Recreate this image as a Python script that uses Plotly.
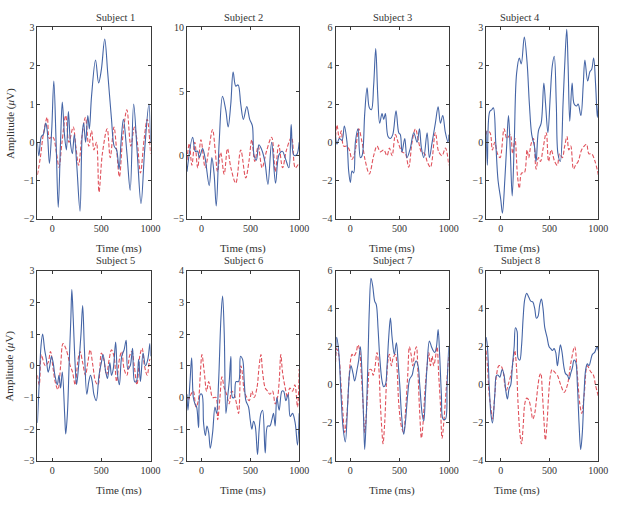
import plotly.graph_objects as go
from plotly.subplots import make_subplots

# ERP traces (time in ms, amplitude in microvolts)
s1_blue_t = [-150, -135, -110, -90, -65, -50, -28, -5, 17, 40, 62, 85, 103, 125, 145, 165, 185, 205, 225, 250,
             283, 305, 320, 340, 362, 378, 400, 441, 472, 500, 534, 565, 603, 630, 655, 680, 700, 724, 760, 793,
             828, 865, 903, 940, 983, 1000]
s1_blue_v = [0.0, -0.35, 0.15, 0.2, 0.5, 0.3, -0.55, 0.3, 1.6, 0.0, -1.7, 0.0, 1.05, 0.2, -0.2, 0.8, 0.0, -0.3, 0.2, -0.6,
             -1.8, 0.2, 0.5, 0.0, 0.7, 0.35, 1.2, 2.15, 1.55, 1.9, 2.7, 1.8, 0.6, -0.1, -0.2, -0.7, 0.0, 0.6, -0.3, -1.25,
             1.0, -0.3, -1.6, -0.2, 1.0, 0.0]
s1_red_t = [-150, -120, -90, -50, -28, 0, 17, 45, 70, 100, 138, 170, 214, 240, 269, 300, 338, 372, 400, 425,
            450, 476, 510, 559, 590, 628, 655, 683, 720, 759, 800, 835, 865, 897, 935, 966, 1000]
s1_red_v = [-0.85, -0.4, 0.2, 0.65, 0.1, 0.15, 0.1, -0.3, -0.65, 0.0, 0.7, 0.0, 0.4, -0.1, -0.6, 0.1, 0.65, -0.1, 0.3, -0.2,
            0.0, -1.3, -0.3, 0.35, -0.4, 0.4, -0.2, -0.9, 0.2, 0.85, -0.1, 0.4, 0.0, -0.8, 0.1, 0.6, -0.3]

s2_blue_t = [-150, -92, -65, -41, -24, 10, 37, 78, 105, 128, 150, 180, 214, 248, 272, 299, 323, 350, 374, 401,
             428, 463, 493, 520, 537, 561, 588, 622, 650, 680, 718, 758, 792, 827, 860, 895, 918, 945, 973, 1000]
s2_blue_v = [-1.3, 1.4, 0.3, 0.3, -0.2, 0.5, -0.3, -2.4, -0.2, -1.5, -4.0, 1.0, 4.6, 3.5, 2.2, 4.0, 6.5, 5.4, 5.5, 4.0,
             2.8, 3.8, 2.8, 2.3, 0.0, -0.4, 0.8, 0.3, -0.6, -2.3, 1.0, -2.2, 0.0, 0.3, -0.3, -1.0, 2.4, 0.0, 0.0, 1.0]
s2_red_t = [-150, -126, -100, -70, -40, -7, 37, 75, 112, 140, 163, 195, 231, 265, 300, 350, 401, 452, 485, 514,
            545, 580, 620, 665, 718, 755, 790, 830, 870, 922, 960, 1000]
s2_red_v = [-0.4, 0.9, -0.8, 1.0, -1.0, 1.2, -1.0, 0.5, 2.0, 0.3, -1.3, 0.2, -1.5, 0.5, -1.0, -2.2, 0.4, -1.8, -0.5, 1.2,
            -0.5, 0.7, -1.0, 0.3, 1.4, -1.3, 0.8, -1.0, 0.4, 1.4, -1.0, -0.6]

s3_blue_t = [-150, -136, -112, -85, -61, -34, -17, 0, 17, 34, 51, 78, 102, 119, 146, 170, 193, 214, 237, 258,
             278, 298, 322, 339, 356, 383, 407, 431, 464, 492, 508, 525, 553, 576, 610, 644, 678, 702, 722, 746,
             780, 803, 831, 864, 892, 915, 939, 966, 993, 1000]
s3_blue_v = [0.3, -0.1, 0.2, 0.1, 0.85, 0.0, -1.5, -2.1, -1.5, -1.6, 0.0, 0.7, -0.8, -0.7, 1.5, 2.85, 1.8, 1.7, 3.0, 4.9,
             2.5, 1.0, 1.5, 1.2, 1.5, 0.3, 0.2, 0.4, 1.65, 0.5, 0.4, -0.5, 0.2, -0.8, -0.3, 0.5, 0.0, 0.7, -0.3, -0.8,
             0.5, -0.8, 0.0, 1.0, 1.85, 1.0, 1.4, 0.5, 0.0, 0.4]
s3_red_t = [-150, -136, -112, -92, -68, -34, -10, 17, 51, 85, 119, 153, 193, 237, 271, 305, 339, 373, 397, 424,
            458, 485, 525, 559, 593, 627, 661, 695, 722, 756, 780, 814, 864, 898, 932, 966, 1000]
s3_red_v = [0.3, 0.9, 0.2, 0.6, -0.2, -0.2, -0.4, -0.9, -0.4, 0.7, 0.0, -1.0, -1.65, -0.7, -0.2, -0.5, -0.4, -0.7, -0.3, -0.7,
            0.4, 0.0, -0.5, -0.6, -1.3, 0.0, 0.7, 0.0, -0.5, -0.6, -1.0, -1.3, 0.5, -0.5, -0.7, -0.3, -1.2]

s4_blue_t = [-150, -138, -114, -93, -76, -52, -28, 0, 17, 41, 62, 79, 97, 117, 138, 162, 190, 210, 241, 269,
             293, 317, 345, 362, 386, 414, 441, 459, 483, 507, 528, 548, 569, 586, 610, 638, 655, 676, 690, 707,
             731, 752, 776, 793, 821, 845, 862, 890, 914, 931, 952, 972, 990, 1000]
s4_blue_v = [0.3, -0.6, 0.8, 0.85, 0.9, 0.0, -1.0, -1.5, -1.85, -1.0, 0.0, 0.7, -0.2, -1.4, 0.0, 1.8, 2.2, 2.05, 2.75, 2.1,
             1.0, 0.2, -0.1, -0.5, 0.3, 0.5, 1.55, 1.0, 0.25, 1.2, 2.0, 2.25, 1.0, -0.3, -0.5, 1.0, 2.0, 2.95, 2.0, 0.55,
             1.55, 1.0, 0.95, 1.0, 0.7, 1.5, 2.15, 1.6, 1.85, 1.9, 2.2, 1.5, 0.65, 1.0]
s4_red_t = [-150, -138, -110, -86, -62, -34, -7, 34, 62, 97, 121, 145, 172, 190, 214, 241, 269, 286, 310, 334,
            362, 386, 407, 431, 466, 490, 517, 552, 579, 603, 631, 655, 679, 697, 717, 745, 766, 793, 828, 855,
            879, 903, 931, 966, 1000]
s4_red_v = [0.2, 0.3, 0.25, -0.2, 0.0, -0.3, -0.4, 0.35, 0.1, 0.2, -0.3, 0.1, -0.9, -1.2, -0.8, -0.8, -0.2, -0.4, -0.05, 0.1,
            -0.7, -0.4, -0.5, -0.2, 0.25, -0.5, -0.2, -0.5, -0.6, -0.3, -0.4, -0.1, 0.15, -0.2, -0.1, -0.7, -0.6, -0.5, -0.2, -0.1,
            -0.05, -0.3, -0.3, -0.5, -0.85]

s5_blue_t = [-150, -131, -114, -97, -76, -59, -41, -24, -7, 10, 28, 52, 69, 86, 103, 128, 138, 155, 172, 190,
             200, 214, 234, 248, 269, 293, 310, 328, 352, 372, 390, 407, 424, 448, 476, 500, 517, 545, 562, 586,
             603, 621, 645, 662, 683, 707, 731, 752, 769, 793, 817, 838, 855, 879, 897, 924, 948, 972, 993, 1000]
s5_blue_v = [-1.8, -0.5, 0.6, 1.0, 0.5, 0.2, -0.2, 0.0, 0.3, 0.1, -0.3, -0.6, -0.3, -0.7, -0.2, -1.6, -2.15, -1.5, 0.0, 1.5,
             2.4, 1.5, 0.0, -0.6, 0.0, 1.0, 1.9, 0.5, -0.9, -0.5, -0.3, -0.5, -0.9, -1.1, -0.3, 0.1, 0.35, -0.2, -0.4, 0.1,
             -0.3, -0.1, 0.75, -0.2, -0.6, 0.3, 0.5, 0.8, -0.1, 0.0, 0.55, -0.5, -0.5, 0.2, -0.5, 0.4, 0.0, 0.2, 0.7, 0.3]
s5_red_t = [-150, -131, -110, -86, -69, -41, -17, 10, 34, 59, 86, 110, 138, 162, 183, 207, 234, 259, 283, 310,
            338, 362, 386, 414, 441, 466, 500, 524, 552, 579, 603, 628, 655, 683, 707, 731, 759, 786, 810, 834,
            862, 890, 914, 938, 966, 993, 1000]
s5_red_v = [-0.3, -0.6, 0.35, 0.1, 0.0, 0.1, 0.45, -0.1, -0.55, -0.75, 0.0, 0.7, 0.55, 0.3, 0.0, -0.2, -0.6, 0.1, 0.45, 0.1,
            -0.3, 0.1, 0.5, 0.0, -0.5, -0.6, 0.4, 0.2, -0.3, 0.2, 0.5, 0.3, -0.5, 0.2, 0.45, -0.1, -0.3, 0.3, 0.45, 0.0,
            -0.6, 0.3, 0.55, 0.0, -0.3, 0.2, 0.2]

s6_blue_t = [-150, -140, -119, -102, -85, -68, -51, -31, -14, 3, 20, 38, 55, 72, 89, 113, 137, 154, 174, 198,
             215, 232, 249, 266, 283, 300, 317, 334, 352, 379, 399, 420, 437, 454, 481, 498, 515, 532, 550, 573,
             590, 608, 625, 652, 676, 700, 720, 737, 754, 771, 795, 823, 840, 864, 887, 908, 932, 959, 983, 1000]
s6_blue_v = [0.1, -0.4, 0.5, 1.25, 0.0, -0.2, -0.3, -0.95, 0.1, 0.1, -0.8, -1.2, -0.9, -1.1, -1.6, -1.1, -0.3, -0.5, 0.5, 2.5,
             3.2, 2.0, -0.5, 0.0, 0.5, 1.3, 0.0, 0.0, 0.5, 0.5, 1.3, 1.2, 0.5, -0.1, -0.3, -0.7, -1.0, -0.75, -0.9, -1.8,
             -1.0, -0.5, -0.4, -1.75, -0.9, -0.9, -0.7, -0.5, -0.9, 0.0, -0.4, 0.2, 0.2, -0.1, 0.1, -0.6, -0.5, -0.8, -1.5, -0.5]
s6_red_t = [-150, -133, -109, -85, -58, -34, -14, 3, 27, 51, 72, 89, 113, 147, 164, 188, 208, 232, 256, 283,
            307, 334, 358, 379, 403, 420, 437, 464, 488, 515, 539, 567, 590, 608, 625, 652, 676, 700, 727, 754,
            778, 795, 812, 829, 857, 881, 904, 932, 956, 983, 1000]
s6_red_v = [0.0, -0.05, 0.1, 0.2, -0.3, -0.1, 0.7, 1.35, 0.8, 0.2, 0.5, 0.3, 0.0, 0.0, -0.7, 0.0, 0.65, 0.3, 0.1, -0.2,
            0.2, 0.1, -0.2, -0.5, 1.0, 0.7, 0.2, 0.0, -0.1, 0.2, 0.0, 0.3, 1.0, 1.35, 0.8, 0.3, 0.2, 0.1, 0.2, -0.2,
            0.0, 0.5, 1.35, 0.8, 0.3, 0.0, 0.3, 0.2, 0.4, -0.3, 0.9]

s7_blue_t = [-150, -139, -119, -95, -75, -51, -27, -10, 7, 27, 44, 68, 85, 102, 119, 136, 146, 163, 180, 193,
             210, 227, 247, 264, 281, 298, 322, 339, 356, 373, 390, 407, 424, 447, 468, 485, 502, 519, 542, 559,
             583, 603, 627, 644, 668, 688, 705, 729, 746, 763, 780, 803, 824, 841, 858, 875, 892, 908, 925, 942,
             966, 983, 1000]
s7_blue_v = [1.5, 2.5, 1.8, -0.5, -2.2, -3.0, -1.0, 0.5, 1.0, 0.6, 0.2, 0.8, 1.3, 2.0, 0.5, -2.0, -3.4, -1.5, 1.5, 4.0,
             5.6, 5.2, 4.4, 4.2, 3.0, 1.5, 0.2, -0.1, 0.0, 1.0, 2.5, 3.5, 2.5, 1.6, 2.2, 1.2, 0.0, -1.5, -2.6, -2.0,
             -0.5, 0.3, 0.5, 0.9, 1.25, 1.0, 0.0, -1.5, -1.9, -0.5, 1.0, 2.3, 2.0, 1.8, 1.7, 2.0, 2.9, 1.5, -0.5, -1.8,
             -1.8, 0.0, 2.0]
s7_red_t = [-150, -139, -119, -95, -75, -58, -34, -17, 0, 17, 34, 58, 78, 95, 112, 129, 146, 163, 180, 197,
            214, 231, 247, 271, 288, 305, 322, 332, 349, 366, 383, 397, 417, 434, 458, 475, 492, 519, 542, 559,
            583, 600, 617, 634, 654, 671, 688, 705, 722, 739, 756, 780, 797, 814, 831, 847, 864, 881, 898, 915,
            932, 949, 973, 1000]
s7_red_v = [1.2, 1.9, 1.6, 0.0, -1.5, -2.5, -1.5, 0.0, 1.2, 1.6, 1.5, 1.7, 2.1, 1.8, 0.5, -1.0, -2.5, -1.5, 0.0, 0.8,
            0.8, 0.5, 0.8, 1.7, 1.0, -1.0, -2.5, -3.1, -2.0, 0.0, 1.3, 1.6, 1.0, 1.4, 1.6, 0.8, -1.0, -2.2, -2.5, -1.5,
            0.5, 2.0, 1.6, 1.0, 1.7, 2.0, 0.5, -1.5, -2.8, -2.0, -0.5, 1.0, 1.7, 1.0, 1.5, 1.0, 1.4, 2.0, 0.5, -1.0,
            -2.8, -2.0, -0.3, 1.5]

s8_blue_t = [-150, -137, -119, -102, -85, -61, -44, -27, -10, 14, 34, 51, 68, 85, 102, 119, 137, 150, 167, 177,
             195, 212, 229, 246, 266, 287, 307, 328, 348, 365, 382, 399, 416, 433, 451, 474, 495, 512, 529, 546,
             563, 580, 594, 611, 628, 645, 662, 683, 700, 717, 734, 751, 768, 785, 802, 819, 836, 853, 870, 887,
             904, 922, 939, 962, 986, 1000]
s8_blue_v = [2.5, 2.0, 0.0, -1.5, -2.0, -0.5, 0.5, 0.5, 0.4, 0.8, 0.5, -0.3, -0.75, -0.2, 0.0, 1.0, 2.0, 3.0, 2.8, 1.4,
             1.3, 2.0, 3.5, 4.5, 4.8, 4.6, 4.4, 4.35, 4.0, 3.5, 3.6, 4.2, 4.5, 4.0, 3.0, 2.5, 2.0, 1.9, 1.8, 1.9,
             1.7, 1.0, 1.5, 2.1, 1.7, 1.0, 0.6, 0.5, 0.3, 0.6, 0.9, 1.3, 1.2, 0.0, -2.0, -3.4, -2.5, -0.5, 0.8, 1.1,
             1.0, 1.3, 1.6, 1.7, 2.0, 1.8]
s8_red_t = [-150, -137, -119, -102, -85, -61, -44, -20, 0, 24, 41, 58, 75, 102, 126, 143, 160, 177, 195, 212,
            229, 246, 266, 287, 307, 328, 348, 365, 382, 399, 410, 427, 444, 457, 474, 491, 509, 526, 546, 580,
            614, 650, 683, 720, 757, 785, 810, 830, 855, 887, 920, 950, 970, 1000]
s8_red_v = [1.8, 1.0, -0.5, -1.2, -1.8, -0.5, 0.5, 1.0, 1.0, 0.7, 0.0, -0.3, 0.0, 0.5, 1.2, 1.8, 1.0, -1.0, -2.5, -3.1,
            -2.2, -1.0, -0.7, -0.8, -1.2, -1.8, -1.5, -0.8, 0.0, 0.5, 0.6, -0.5, -2.0, -2.9, -2.0, -0.5, 0.5, 0.8, 0.7, 0.5,
            0.0, -0.4, 0.0, 1.2, 2.0, 0.5, -1.0, -1.5, -0.5, 1.0, 0.7, 0.5, 0.0, -0.6]

subjects = ["Subject 1", "Subject 2", "Subject 3", "Subject 4",
            "Subject 5", "Subject 6", "Subject 7", "Subject 8"]
blue_series = [(s1_blue_t, s1_blue_v), (s2_blue_t, s2_blue_v), (s3_blue_t, s3_blue_v), (s4_blue_t, s4_blue_v),
               (s5_blue_t, s5_blue_v), (s6_blue_t, s6_blue_v), (s7_blue_t, s7_blue_v), (s8_blue_t, s8_blue_v)]
red_series = [(s1_red_t, s1_red_v), (s2_red_t, s2_red_v), (s3_red_t, s3_red_v), (s4_red_t, s4_red_v),
              (s5_red_t, s5_red_v), (s6_red_t, s6_red_v), (s7_red_t, s7_red_v), (s8_red_t, s8_red_v)]
y_ranges = [[-2, 3], [-5, 10], [-4, 6], [-2, 3], [-3, 3], [-2, 4], [-4, 6], [-4, 6]]
y_dticks = [1, 5, 2, 1, 1, 1, 2, 2]
x_ticks = [0, 500, 1000]

W, H = 630, 506
col_px = [(38, 153), (190, 304), (341, 456), (494, 608)]
row_px = [(22, 218), (271, 466)]

BLUE = "#4565a6"
RED = "#e0525c"
AXIS = "#3a3a3a"
FONT = "Liberation Serif, Times New Roman, serif"

fig = make_subplots(rows=2, cols=4)

for i in range(8):
    r, c = i // 4 + 1, i % 4 + 1
    rt, rv = red_series[i]
    bt, bv = blue_series[i]
    fig.add_trace(go.Scatter(x=rt, y=rv, mode="lines", line=dict(color=RED, width=1.1, dash="4px,2px", shape="spline"),
                             showlegend=False), row=r, col=c)
    fig.add_trace(go.Scatter(x=bt, y=bv, mode="lines", line=dict(color=BLUE, width=1.1, shape="spline"),
                             showlegend=False), row=r, col=c)

annotations = []
for i in range(8):
    r, c = i // 4, i % 4
    x0, x1 = col_px[c]
    y0, y1 = row_px[r]
    fig.update_xaxes(domain=[x0 / W, x1 / W], range=[-150, 1000], tickvals=x_ticks,
                     row=r + 1, col=c + 1)
    fig.update_yaxes(domain=[1 - y1 / H, 1 - y0 / H], range=y_ranges[i], dtick=y_dticks[i], tick0=0,
                     row=r + 1, col=c + 1)
    xc = (x0 + x1) / 2 / W
    annotations.append(dict(text=subjects[i], x=xc, y=1 - (y0 - 10) / H, xref="paper", yref="paper",
                            showarrow=False, yanchor="middle", font=dict(size=10.5, color="#333333")))
    annotations.append(dict(text="Time (ms)", x=xc, y=1 - (y1 + 30) / H, xref="paper", yref="paper",
                            showarrow=False, yanchor="middle", font=dict(size=11)))
    if c == 0:
        annotations.append(dict(text="Amplitude (<i>μ</i>V)", x=10 / W, y=1 - (y0 + y1) / 2 / H,
                                xref="paper", yref="paper", showarrow=False, textangle=-90,
                                xanchor="center", yanchor="middle", font=dict(size=11)))

fig.update_xaxes(showgrid=False, zeroline=False, showline=True, linecolor=AXIS, linewidth=1, mirror="ticks",
                 ticks="inside", ticklen=3, tickcolor=AXIS, tickfont=dict(size=10))
fig.update_yaxes(showgrid=False, zeroline=False, showline=True, linecolor=AXIS, linewidth=1, mirror="ticks",
                 ticks="inside", ticklen=3, tickcolor=AXIS, tickfont=dict(size=10))

fig.update_layout(width=W, height=H, margin=dict(l=0, r=0, t=0, b=0),
                  paper_bgcolor="white", plot_bgcolor="white",
                  font=dict(family=FONT, color="#333333"),
                  annotations=annotations)

# page body has a default 8px margin; drop it so the figure sits at the window corner
fig.write_html("out.html", config={"displayModeBar": False},
               post_script="document.body.style.margin = '0px';")
